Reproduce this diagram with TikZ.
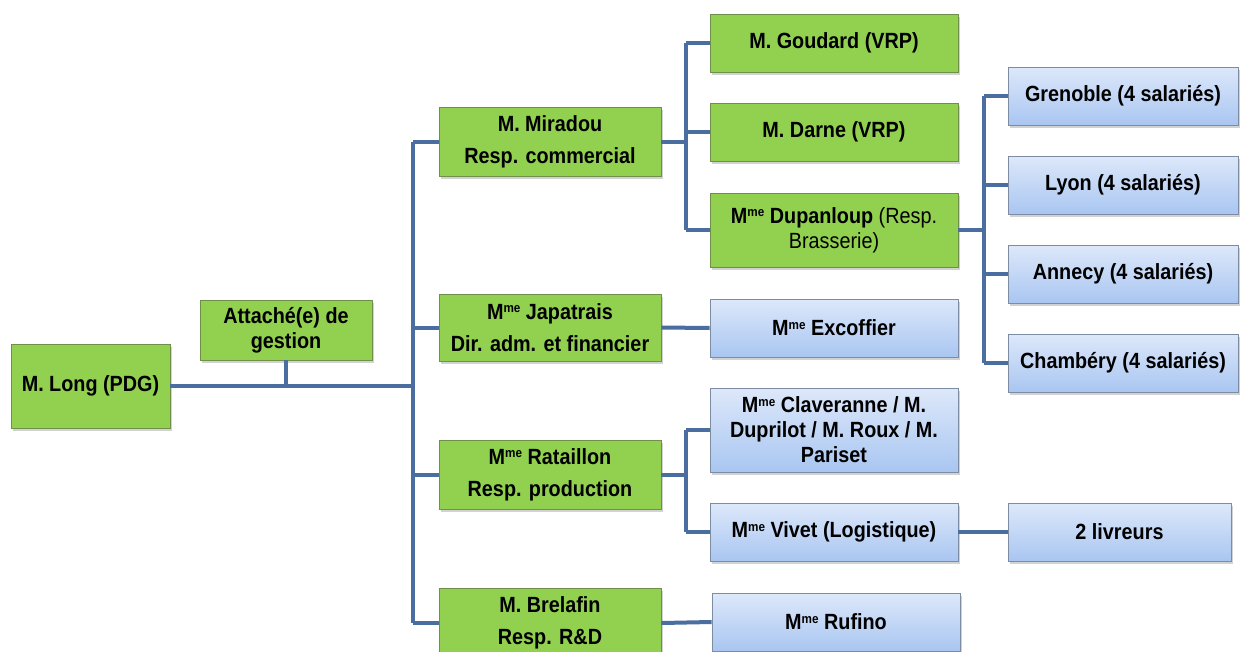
\documentclass[tikz,border=0pt]{standalone}
\usepackage{fontspec}
\setmainfont{Liberation Sans}[FakeStretch=0.9]
\usetikzlibrary{shadows}
\definecolor{linkblue}{HTML}{4A6E9F}
\definecolor{boxgreen}{HTML}{92D050}
\definecolor{greenedge}{HTML}{6F8F4A}
\definecolor{bluetop}{HTML}{DDE8FA}
\definecolor{bluebot}{HTML}{A9C6F1}
\definecolor{blueedge}{HTML}{7D8CA3}
\newcommand\orgfont{\fontsize{22}{25}\selectfont}
\newcommand\me{M\raisebox{6.5pt}{\fontsize{13}{13}\selectfont me}}
\tikzset{
  orgbox/.style={rectangle, inner sep=0pt, align=center, font=\orgfont\bfseries,
    line width=0.8pt, drop shadow={shadow xshift=2pt, shadow yshift=-3pt, opacity=0.35}},
  greenbox/.style={orgbox, fill=boxgreen, draw=greenedge},
  bluebox/.style={orgbox, draw=blueedge, top color=bluetop, bottom color=bluebot},
  link/.style={draw=linkblue, line width=4pt},
}
\begin{document}
\begin{tikzpicture}[x=1pt, y=-1pt]
\clip (0,0) rectangle (1240,651);
\fill[white] (0,0) rectangle (1240,651);

% direction and staff
\node[greenbox, minimum width=159, minimum height=84] (long) at (90.5,386) {M. Long (PDG)};
\node[greenbox, minimum width=172, minimum height=60] (att) at (286,330) {Attaché(e) de\\gestion};

% heads of department
\node[greenbox, minimum width=222, minimum height=69] (mir) at (550,141.5) {M. Miradou\\[7pt]Resp. commercial};
\node[greenbox, minimum width=222, minimum height=67] (jap) at (550,327.5) {\me{} Japatrais\\[7pt]Dir. adm. et financier};
\node[greenbox, minimum width=222, minimum height=69] (rat) at (550,474.5) {\me{} Rataillon\\[7pt]Resp. production};
\node[greenbox, minimum width=222, minimum height=70] (bre) at (550,623) {M. Brelafin\\[7pt]Resp. R\&D};

% commercial team
\node[greenbox, minimum width=248, minimum height=58] (gou) at (834,43) {M. Goudard (VRP)};
\node[greenbox, minimum width=248, minimum height=58] (dar) at (834,132) {M. Darne (VRP)};
\node[greenbox, minimum width=248, minimum height=74, font=\orgfont] (dup) at (834,230) {\textbf{\me{} Dupanloup} (Resp.\\Brasserie)};

% staff
\node[bluebox, minimum width=248, minimum height=58] (exc) at (834,328) {\me{} Excoffier};
\node[bluebox, minimum width=248, minimum height=84] (cla) at (834,430) {\me{} Claveranne / M.\\Duprilot / M. Roux / M.\\Pariset};
\node[bluebox, minimum width=248, minimum height=58] (viv) at (834,532) {\me{} Vivet (Logistique)};
\node[bluebox, minimum width=248, minimum height=58] (ruf) at (836,622) {\me{} Rufino};
\node[bluebox, minimum width=223, minimum height=58] (liv) at (1119.5,532) {2 livreurs};

% brasseries
\node[bluebox, minimum width=230, minimum height=58] (gre) at (1123,96) {Grenoble (4 salariés)};
\node[bluebox, minimum width=230, minimum height=58] (lyo) at (1123,185) {Lyon (4 salariés)};
\node[bluebox, minimum width=230, minimum height=58] (ann) at (1123,274) {Annecy (4 salariés)};
\node[bluebox, minimum width=230, minimum height=58] (cha) at (1123,363) {Chambéry (4 salariés)};

% branching points
\coordinate (trunk) at (413,0);
\coordinate (com) at (686,0);
\coordinate (bra) at (984,0);

% connectors
\draw[link] (long.east) -- (long.east -| trunk);
\draw[link] (att.south) -- (att.south |- long.east);
\draw[link] (mir.west -| trunk) -- (bre.west -| trunk);
\foreach \n in {mir,jap,rat,bre} \draw[link] (\n.west -| trunk) -- (\n.west);

\draw[link] (mir.east) -- (mir.east -| com);
\draw[link] (gou.west -| com) -- (dup.west -| com);
\foreach \n in {gou,dar,dup} \draw[link] (\n.west -| com) -- (\n.west);

\draw[link] (dup.east) -- (dup.east -| bra);
\draw[link] (gre.west -| bra) -- (cha.west -| bra);
\foreach \n in {gre,lyo,ann,cha} \draw[link] (\n.west -| bra) -- (\n.west);

\draw[link] (jap.east) -- (exc.west);

\draw[link] (rat.east) -- (rat.east -| com);
\draw[link] (cla.west -| com) -- (viv.west -| com);
\foreach \n in {cla,viv} \draw[link] (\n.west -| com) -- (\n.west);

\draw[link] (viv.east) -- (liv.west);
\draw[link] (bre.east) -- (ruf.west);
\end{tikzpicture}
\end{document}
